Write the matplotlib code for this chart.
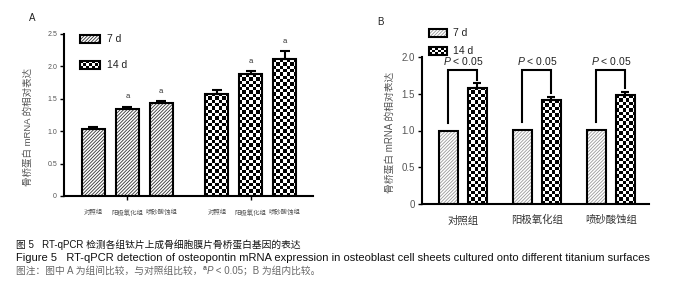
"""
RT-qPCR osteopontin mRNA expression, panels A (between groups) and B (within groups).
"""

import matplotlib

matplotlib.use("Agg")  # non-interactive backend

import matplotlib.pyplot as plt
import numpy as np
from matplotlib.patches import Rectangle
from matplotlib.transforms import blended_transform_factory

plt.rcParams["font.family"] = ["Liberation Sans", "Noto Sans CJK SC", "DejaVu Sans"]
plt.rcParams["mathtext.fontset"] = "custom"
plt.rcParams["mathtext.rm"] = "Liberation Sans"
plt.rcParams["mathtext.it"] = "Liberation Sans:italic"
plt.rcParams["hatch.linewidth"] = 0.6

# ---- data -----------------------------------------------------------------
GROUPS = ["对照组", "阳极氧化组", "喷砂酸蚀组"]
DAYS = ["7 d", "14 d"]
Y_LABEL = "骨桥蛋白 mRNA 的相对表达"

# panel A: between-group comparison
A_7D = [1.04, 1.34, 1.43]
A_7D_ERR = [0.03, 0.04, 0.03]
A_14D = [1.58, 1.88, 2.11]
A_14D_ERR = [0.05, 0.05, 0.13]
A_SIG = [False, True, True]  # "a": P < 0.05 vs control
A_TICKS = [0, 0.5, 1.0, 1.5, 2.0, 2.5]
A_TICK_LABELS = ["0", "0.5", "1.0", "1.5", "2.0", "2.5"]

# panel B: within-group comparison
B_7D = [1.0, 1.01, 1.01]
B_14D = [1.58, 1.41, 1.48]
B_14D_ERR = [0.06, 0.045, 0.045]
B_P_TEXT = "$P$ < 0.05"
B_TICKS = [0, 0.5, 1.0, 1.5, 2.0]
B_TICK_LABELS = ["0", "0.5", "1.0", "1.5", "2.0"]

CAPTION_CN = "图 5   RT-qPCR 检测各组钛片上成骨细胞膜片骨桥蛋白基因的表达"
CAPTION_EN = ("Figure 5   RT-qPCR detection of osteopontin mRNA expression in "
              "osteoblast cell sheets cultured onto different titanium surfaces")
# note line pieces: (text, style) -> plain / sup / italic
CAPTION_NOTE = [
    ("图注：图中 A 为组间比较，与对照组比较，", "plain"),
    ("a", "sup"),
    ("P", "italic"),
    (" < 0.05；B 为组内比较。", "plain"),
]

# ---- layout ---------------------------------------------------------------
W, H = 686, 300
EDGE_LW = 1.5
TEXT_GRAY = "#555555"
DENSE_HATCH = "/" * 10


def px_axes(fig, left, top, right, bottom):
    """Add axes from pixel coordinates (origin top-left)."""
    return fig.add_axes([left / W, 1 - bottom / H, (right - left) / W, (bottom - top) / H])


def checker_fill(ax, x0, x1, y0, y1, transform, cell=3.3, zorder=2):
    """Fill a rectangle with a black/white checkerboard."""
    p0 = transform.transform((x0, y0))
    p1 = transform.transform((x1, y1))
    nx = max(1, int(round(abs(p1[0] - p0[0]) / cell)))
    ny = max(1, int(round(abs(p1[1] - p0[1]) / cell)))
    grid = np.indices((ny, nx)).sum(axis=0) % 2
    ax.imshow(grid, cmap="gray", extent=(x0, x1, y0, y1), aspect="auto",
              interpolation="nearest", transform=transform, zorder=zorder,
              clip_on=False)


def hatched_bars(ax, x, vals, width, hatch_color):
    ax.bar(x, vals, width, facecolor="white", edgecolor=hatch_color,
           hatch=DENSE_HATCH, linewidth=0, zorder=2)
    ax.bar(x, vals, width, facecolor="none", edgecolor="black",
           linewidth=EDGE_LW, zorder=4)


def checker_bars(ax, x, vals, width):
    bars = ax.bar(x, vals, width, facecolor="none", edgecolor="black",
                  linewidth=EDGE_LW, zorder=4)
    for rect in bars:
        checker_fill(ax, rect.get_x(), rect.get_x() + rect.get_width(),
                     0, rect.get_height(), ax.transData)


def legend_box(ax, x0, x1, y0, y1, label, kind, hatch_color="#444444", fs=7.5):
    if kind == "hatch":
        ax.add_patch(Rectangle((x0, y0), x1 - x0, y1 - y0, transform=ax.transAxes,
                               facecolor="white", edgecolor=hatch_color,
                               hatch=DENSE_HATCH, linewidth=0, clip_on=False,
                               zorder=2))
    else:
        checker_fill(ax, x0, x1, y0, y1, ax.transAxes, cell=3.0)
    ax.add_patch(Rectangle((x0, y0), x1 - x0, y1 - y0, transform=ax.transAxes,
                           facecolor="none", edgecolor="black", linewidth=EDGE_LW,
                           clip_on=False, zorder=4))
    ax.text(x1 + 0.028, (y0 + y1) / 2, label, transform=ax.transAxes,
            fontsize=fs, ha="left", va="center", color="#222222")


def style_axes(ax, tick_fs):
    for side in ("top", "right"):
        ax.spines[side].set_visible(False)
    for side in ("left", "bottom"):
        ax.spines[side].set_linewidth(EDGE_LW)
    ax.tick_params(axis="y", direction="out", length=3, width=1.0,
                   labelsize=tick_fs, labelcolor=TEXT_GRAY, pad=2)
    ax.set_autoscale_on(False)


fig = plt.figure(figsize=(W / 100, H / 100), dpi=100)

# ---- panel A --------------------------------------------------------------
ax_a = px_axes(fig, 64, 34, 313, 196)
ax_a.set_xlim(-0.87, 6.49)
ax_a.set_ylim(0, 2.5)
style_axes(ax_a, 5)
ax_a.set_yticks(A_TICKS)
ax_a.set_yticklabels(A_TICK_LABELS)

n = len(GROUPS)
x7 = np.arange(n)
x14 = np.arange(n) + n + 0.65
bw = 0.68

hatched_bars(ax_a, x7, A_7D, bw, "#333333")
checker_bars(ax_a, x14, A_14D, bw)
xs = np.concatenate([x7, x14])
vals = np.array(A_7D + A_14D)
errs = np.array(A_7D_ERR + A_14D_ERR)
ax_a.errorbar(xs, vals, yerr=[np.zeros_like(errs), errs], fmt="none",
              ecolor="black", elinewidth=EDGE_LW, capsize=3.5, capthick=EDGE_LW,
              zorder=5)
for x, v, e, s in zip(xs, vals, errs, A_SIG + A_SIG):
    if s:
        ax_a.text(x, v + e + 0.15, "a", ha="center", va="center",
                  fontsize=5.5, color="#333333")

ax_a.set_xticks([x7.mean(), x14.mean()])
ax_a.set_xticklabels([])
ax_a.tick_params(axis="x", direction="out", length=3, width=1.0)
bx = blended_transform_factory(ax_a.transData, ax_a.transAxes)
for x, g in zip(xs, GROUPS + GROUPS):
    ax_a.text(x, -0.1, g, transform=bx, ha="center", va="center",
              fontsize=4.6, color=TEXT_GRAY)

legend_box(ax_a, 0.064, 0.145, 0.944, 0.994, DAYS[0], "hatch", "#333333")
legend_box(ax_a, 0.064, 0.145, 0.784, 0.834, DAYS[1], "checker")

fig.text(28 / W, 1 - 127 / H, Y_LABEL, rotation=90, ha="center", va="center",
         fontsize=6.8, color=TEXT_GRAY)
fig.text(32 / W, 1 - 18 / H, "A", ha="center", va="center", fontsize=7,
         color="#222222")

# ---- panel B --------------------------------------------------------------
ax_b = px_axes(fig, 422, 57, 649, 204)
ax_b.set_xlim(-0.554, 2.514)
ax_b.set_ylim(0, 2.0)
style_axes(ax_b, 7)
ax_b.set_yticks(B_TICKS)
ax_b.set_yticklabels(B_TICK_LABELS)

gx = np.arange(n)
off = 0.196
bwb = 0.257
hatched_bars(ax_b, gx - off, B_7D, bwb, "#999999")
checker_bars(ax_b, gx + off, B_14D, bwb)
ax_b.errorbar(gx + off, B_14D, yerr=[np.zeros(n), B_14D_ERR], fmt="none",
              ecolor="black", elinewidth=EDGE_LW, capsize=3, capthick=EDGE_LW,
              zorder=5)

bracket_top = 1.82
for x, v7, v14, e14 in zip(gx, B_7D, B_14D, B_14D_ERR):
    ax_b.plot([x - off, x - off, x + off, x + off],
              [v7 + 0.1, bracket_top, bracket_top, v14 + e14 + 0.05],
              color="black", linewidth=EDGE_LW, solid_joinstyle="miter",
              zorder=6, clip_on=False)
    ax_b.text(x, bracket_top + 0.12, B_P_TEXT, ha="center", va="center",
              fontsize=7.5, color="#222222")

ax_b.set_xticks(gx)
ax_b.set_xticklabels(GROUPS)
ax_b.tick_params(axis="x", length=0, pad=8, labelsize=7.5, labelcolor="#333333")

legend_box(ax_b, 0.031, 0.110, 1.136, 1.19, DAYS[0], "hatch", "#999999")
legend_box(ax_b, 0.031, 0.110, 1.015, 1.069, DAYS[1], "checker")

fig.text(390 / W, 1 - 132 / H, Y_LABEL, rotation=90, ha="center", va="center",
         fontsize=7, color=TEXT_GRAY)
fig.text(380 / W, 1 - 22 / H, "B", ha="center", va="center", fontsize=7,
         color="#222222")

# ---- caption --------------------------------------------------------------
fig.text(16 / W, 1 - 245 / H, CAPTION_CN, ha="left", va="center",
         fontsize=7, color="#111111")
fig.text(16 / W, 1 - 258 / H, CAPTION_EN, ha="left", va="center",
         fontsize=8.0, color="#111111")

renderer = fig.canvas.get_renderer()
x_pos = 16 / W
note_y = 1 - 271 / H
for piece, style in CAPTION_NOTE:
    kw = dict(ha="left", va="center", color="#666666", fontsize=7)
    y = note_y
    if style == "sup":
        kw.update(fontsize=5, fontweight="bold")
        y = note_y + 3 / H
    elif style == "italic":
        kw.update(fontstyle="italic")
    t = fig.text(x_pos, y, piece, **kw)
    x_pos = t.get_window_extent(renderer).x1 / W

fig.savefig("out.png", dpi=100)
plt.close(fig)
